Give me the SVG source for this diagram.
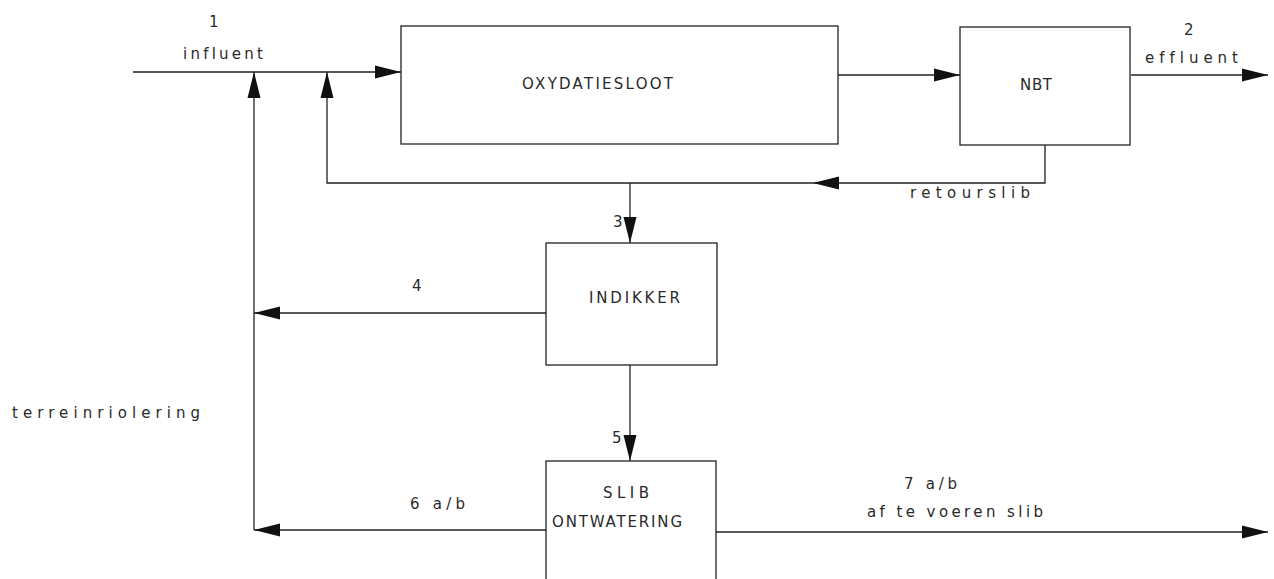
<svg xmlns="http://www.w3.org/2000/svg" width="1274" height="579" viewBox="0 0 1274 579">
<style>
.box{fill:#fff;stroke:#222;stroke-width:1.3}
.ln{fill:none;stroke:#222;stroke-width:1.3}
text{font-family:"DejaVu Sans","Liberation Sans",Arial,sans-serif;font-size:15px;fill:#2a2a2a;font-variant-ligatures:none;font-feature-settings:"liga" 0,"clig" 0}
</style>
<defs>
<marker id="arr" markerUnits="userSpaceOnUse" markerWidth="26" markerHeight="14" viewBox="0 0 24 12" refX="24" refY="6" orient="auto">
<path d="M0,0 L24,6 L0,12 z" fill="#111"/>
</marker>
</defs>
<rect width="1274" height="579" fill="#fff"/>
<g id="connectors">
<path class="ln" d="M133,72 H401" marker-end="url(#arr)"/>
<path class="ln" d="M838,75 H960" marker-end="url(#arr)"/>
<path class="ln" d="M1131,75 H1268" marker-end="url(#arr)"/>
<path class="ln" d="M1045,145 V183 H813" marker-end="url(#arr)"/>
<path class="ln" d="M813,183 H327 V72" marker-end="url(#arr)"/>
<path class="ln" d="M630,183 V243" marker-end="url(#arr)"/>
<path class="ln" d="M546,313 H254" marker-end="url(#arr)"/>
<path class="ln" d="M254,530 V72" marker-end="url(#arr)"/>
<path class="ln" d="M630,365 V461" marker-end="url(#arr)"/>
<path class="ln" d="M546,530 H254" marker-end="url(#arr)"/>
<path class="ln" d="M716,532 H1268" marker-end="url(#arr)"/>
</g>
<g id="labels">
<text x="209" y="27" textLength="8">1</text>
<text x="183" y="59" textLength="80" lengthAdjust="spacing">influent</text>
<text x="1184" y="35" textLength="9">2</text>
<text x="1145" y="63" textLength="93" lengthAdjust="spacing">effluent</text>
<text x="910" y="198" textLength="120" lengthAdjust="spacing">retourslib</text>
<text x="613" y="227" textLength="9">3</text>
<text x="412" y="291" textLength="9">4</text>
<text x="12" y="418" textLength="188" lengthAdjust="spacing">terreinriolering</text>
<text x="612" y="443" textLength="9">5</text>
<text x="410" y="509" textLength="55" lengthAdjust="spacing">6 a/b</text>
<text x="904" y="489" textLength="53" lengthAdjust="spacing">7 a/b</text>
<text x="867" y="517" textLength="176" lengthAdjust="spacing">af te voeren slib</text>
</g>
<g id="oxydatiesloot">
<rect class="box" x="401" y="26" width="437" height="118"/>
<text x="522" y="89" textLength="151" lengthAdjust="spacing">OXYDATIESLOOT</text>
</g>
<g id="nbt">
<rect class="box" x="960" y="27" width="170" height="118"/>
<text x="1020" y="90" textLength="32" lengthAdjust="spacing">NBT</text>
</g>
<g id="indikker">
<rect class="box" x="546" y="243" width="171" height="122"/>
<text x="589" y="303" textLength="91" lengthAdjust="spacing">INDIKKER</text>
</g>
<g id="slibontwatering">
<rect class="box" x="546" y="461" width="170" height="130"/>
<text x="603" y="498" textLength="46" lengthAdjust="spacing">SLIB</text>
<text x="552" y="527" textLength="130" lengthAdjust="spacing">ONTWATERING</text>
</g>
</svg>
